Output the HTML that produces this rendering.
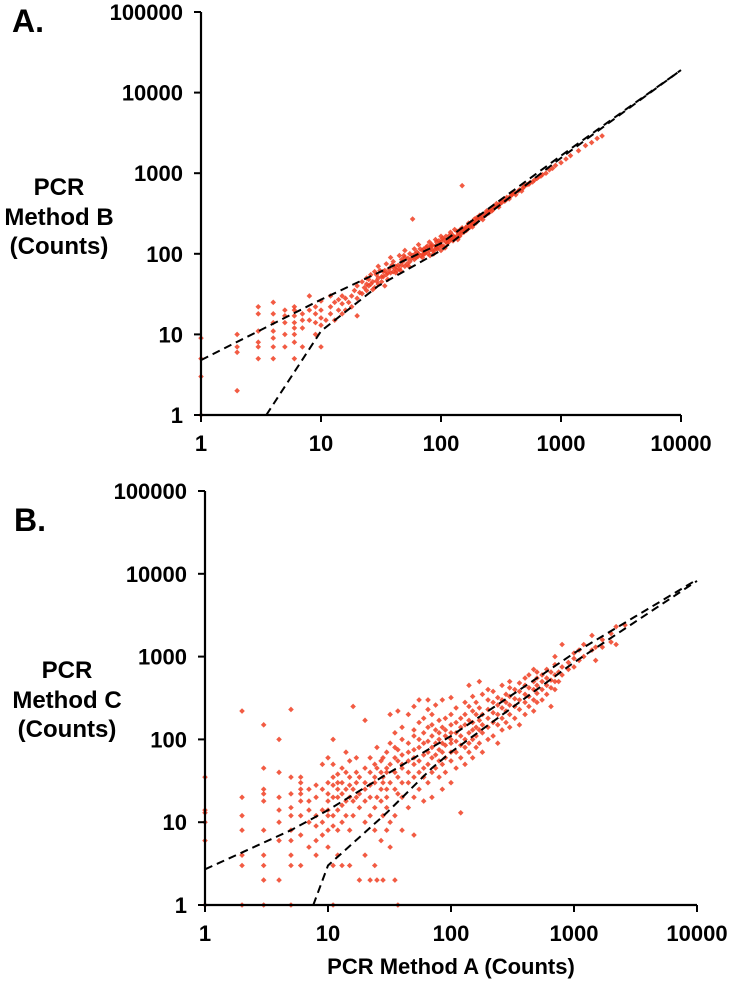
<!DOCTYPE html>
<html><head><meta charset="utf-8">
<style>
html,body{margin:0;padding:0;background:#fff;}
svg{display:block;}
text{font-family:"Liberation Sans",Arial,sans-serif;font-weight:bold;fill:#000;}
</style></head>
<body>
<div style="position:relative;width:733px;height:985px">
<svg id="chart" width="733" height="985" viewBox="0 0 733 985" xmlns="http://www.w3.org/2000/svg" style="position:absolute;left:0;top:0">
  <text x="12" y="32" font-size="32">A.</text>
  <text x="14" y="531" font-size="32">B.</text>
  <g font-size="24" text-anchor="middle">
    <text x="59" y="195">PCR</text>
    <text x="59" y="225">Method B</text>
    <text x="59" y="254">(Counts)</text>
  </g>
  <g font-size="24" text-anchor="middle">
    <text x="67" y="678">PCR</text>
    <text x="67" y="708">Method C</text>
    <text x="67" y="737">(Counts)</text>
  </g>
  <text x="451" y="974" font-size="22" text-anchor="middle">PCR Method A (Counts)</text>
</svg>
</div>
<script>
// ---- data ----
const xTicks = [1, 10, 100, 1000, 10000];
const yTicks = [1, 10, 100, 1000, 10000, 100000];

const pointsA = [[1,1],[1,3],[1,5],[1,9],[2,2],[2,6],[2,7],[2,10],[3,5],[3,7],[3,8],[3,11],[3,18],[3,22],[4,5],[4,7],[4,9],[4,11],[4,14],[4,18],[4,25],[5,7],[5,10],[5,14],[5,17],[5,20],[6,5],[6,8],[6,10],[6,12],[6,14],[6,17],[6,20],[6,22],[7,7],[7,12],[7,15],[7,18],[8,15],[8,20],[8,30],[9,10],[9,14],[9,18],[9,22],[10,7],[10,13],[10,16],[10,20],[10,26],[11,15],[12,18],[12,22],[12,30],[13,15],[13,25],[14,20],[14,27],[15,18],[15,24],[15,30],[16,20],[16,28],[17,25],[18,22],[18,30],[19,35],[20,17],[20,28],[20,40],[22,32],[22,45],[24,35],[24,50],[25,40],[26,55],[27,45],[28,38],[28,60],[30,50],[30,70],[32,45],[33,60],[35,55],[35,75],[37,65],[38,90],[40,60],[40,80],[42,70],[45,95],[45,65],[48,80],[50,90],[50,110],[52,75],[55,100],[58,270],[60,85],[60,115],[65,100],[65,130],[70,110],[70,90],[75,120],[80,110],[80,140],[85,110],[90,125],[90,150],[95,120],[100,110],[100,140],[100,165],[110,140],[110,165],[120,150],[120,185],[130,160],[130,200],[140,180],[150,210],[150,190],[150,700],[160,210],[170,240],[180,230],[190,270],[200,260],[210,300],[220,290],[240,340],[250,320],[260,360],[280,380],[300,400],[320,430],[350,470],[380,520],[400,560],[420,540],[450,620],[480,650],[500,700],[550,760],[600,820],[650,900],[700,960],[750,1000],[800,1100],[850,1150],[900,1250],[1000,1350],[1100,1500],[1200,1650],[1400,1900],[1600,2200],[1800,2400],[2000,2700],[2200,2900],
[25,48],[30,42],[33,52],[36,48],[38,58],[42,58],[44,72],[46,62],[50,70],[55,80],[58,95],[62,90],[68,95],[72,115],[78,100],[82,120],[88,110],[92,140],[98,130],[105,125],[115,150],[125,170],[135,165],[145,200],[155,185],[165,220],[175,215],[185,250],[195,240],[230,310],[270,350],[290,420],[330,460],[370,480],[410,580],[470,600],[520,720],[580,780],[630,860],[680,920],[34,40],[29,55],[21,33],[23,38],[26,42],[31,62],[39,72],[47,85],[53,88],[63,105],[73,100],[83,125],[93,115],[103,155],[113,135],[123,150],[143,165],[163,195],[183,215],[203,275],[223,265],[253,345],[303,380],[353,500],
[24,42],[27,36],[29,46],[32,52],[34,62],[36,58],[41,66],[43,62],[47,72],[49,95],[54,70],[57,88],[61,100],[64,92],[67,115],[71,98],[74,105],[77,125],[81,95],[84,130],[87,100],[91,118],[96,145],[101,125],[106,150],[108,118],[116,140],[118,170],[126,145],[128,160],[136,190],[138,150],[146,175],[158,200],[168,205],[178,245],[188,235],[198,280],[215,275],[235,300],[245,330],[265,340],[275,390],[310,420],[340,450],[390,540],[440,600],[490,680],[540,730]];

const pointsB = [[1,1],[1,6],[1,10],[1,13],[1,14],[1,35],[2,1],[2,3],[2,4],[2,8],[2,12],[2,20],[2,220],[3,1],[3,2],[3,3],[3,4],[3,8],[3,18],[3,22],[3,25],[3,45],[3,150],[4,2],[4,6],[4,10],[4,14],[4,20],[4,40],[4,100],[5,1],[5,3],[5,4],[5,6],[5,8],[5,12],[5,15],[5,22],[5,35],[5,230],[6,3],[6,7],[6,12],[6,18],[6,22],[6,25],[6,30],[6,35],[7,5],[7,10],[7,14],[7,18],[7,25],[8,4],[8,6],[8,9],[8,12],[8,20],[8,28],[9,7],[9,10],[9,14],[9,25],[9,50],[10,5],[10,8],[10,12],[10,14],[10,18],[10,22],[10,30],[10,60],[11,1],[11,3],[11,9],[11,12],[11,20],[11,28],[11,35],[11,50],[11,100],[12,4],[12,8],[12,14],[12,20],[12,25],[12,30],[12,38],[13,3],[13,10],[13,16],[13,22],[13,30],[13,45],[14,12],[14,18],[14,25],[14,40],[14,70],[15,3],[15,8],[15,20],[15,28],[15,35],[15,55],[16,12],[16,18],[16,25],[16,250],[17,20],[17,30],[17,40],[17,60],[18,2],[18,15],[18,22],[18,35],[20,4],[20,10],[20,18],[20,25],[20,30],[20,45],[20,170],[22,2],[22,12],[22,20],[22,28],[22,40],[22,60],[24,3],[24,8],[24,15],[24,30],[24,35],[24,50],[25,2],[25,20],[25,45],[25,80],[27,6],[27,18],[27,25],[27,40],[27,55],[28,2],[28,12],[28,30],[28,35],[28,60],[30,8],[30,15],[30,20],[30,25],[30,40],[30,45],[30,70],[32,5],[32,10],[32,30],[32,50],[32,90],[32,200],[35,2],[35,12],[35,25],[35,40],[35,60],[35,80],[35,120],[37,1],[37,22],[37,35],[37,55],[37,75],[37,220],[40,8],[40,20],[40,30],[40,45],[40,50],[40,65],[40,100],[40,140],[45,15],[45,30],[45,40],[45,55],[45,70],[45,90],[45,200],[50,7],[50,20],[50,35],[50,50],[50,60],[50,75],[50,110],[50,130],[50,250],[55,25],[55,40],[55,55],[55,80],[55,100],[55,160],[55,300],[60,18],[60,35],[60,45],[60,65],[60,90],[60,120],[60,180],[65,30],[65,50],[65,70],[65,95],[65,140],[65,230],[65,300],[70,20],[70,40],[70,60],[70,80],[70,110],[70,150],[70,200],[75,45],[75,65],[75,90],[75,130],[75,260],[80,35],[80,55],[80,75],[80,100],[80,120],[80,170],[85,25],[85,50],[85,70],[85,90],[85,140],[85,300],[90,40],[90,60],[90,85],[90,110],[90,130],[90,180],[100,30],[100,55],[100,70],[100,90],[100,100],[100,120],[100,150],[100,200],[100,320],[110,45],[110,70],[110,95],[110,120],[110,160],[110,240],[120,13],[120,60],[120,85],[120,110],[120,140],[120,180],[130,50],[130,80],[130,100],[130,150],[130,200],[130,280],[140,70],[140,90],[140,120],[140,170],[140,250],[140,450],[150,60],[150,100],[150,130],[150,160],[150,220],[150,330],[160,80],[160,110],[160,140],[160,200],[160,280],[170,90],[170,130],[170,170],[170,240],[170,500],[180,70],[180,120],[180,150],[180,200],[180,350],[200,100],[200,140],[200,180],[200,230],[200,300],[200,400],[220,110],[220,160],[220,210],[220,280],[220,380],[240,90],[240,150],[240,200],[240,260],[240,320],[260,130],[260,180],[260,240],[260,300],[260,450],[280,160],[280,220],[280,280],[280,350],[300,140],[300,200],[300,260],[300,330],[300,420],[300,500],[330,180],[330,250],[330,310],[330,400],[360,150],[360,230],[360,300],[360,380],[360,480],[400,200],[400,280],[400,350],[400,450],[400,550],[430,250],[430,330],[430,420],[430,600],[470,220],[470,300],[470,400],[470,500],[470,700],[500,280],[500,360],[500,450],[500,550],[500,650],[550,300],[550,400],[550,500],[550,600],[600,350],[600,450],[600,550],[600,700],[650,250],[650,420],[650,520],[650,650],[700,400],[700,500],[700,600],[700,800],[700,1000],[750,500],[750,650],[800,600],[800,750],[800,1400],[900,700],[900,850],[1000,750],[1000,950],[1000,1100],[1100,900],[1100,1200],[1200,1000],[1200,1400],[1400,1200],[1400,1800],[1500,900],[1500,1300],[1700,1300],[1700,1600],[2000,1500],[2000,1900],[2200,1400],[2200,2300],[2600,2400]];

const lineA1 = [[1,4.8],[10,27],[100,135],[1000,1650],[10000,19000]];
const lineA2 = [[3.5,1],[10,11],[30,40],[100,110],[1000,1550],[10000,19000]];
const lineB1 = [[1,2.7],[5,8],[10,14],[30,38],[100,110],[1000,1100],[10000,8500]];
const lineB2 = [[7.6,1],[10,3],[30,13],[70,45],[100,70],[1000,850],[10000,8200]];

// ---- drawing ----
const NS = "http://www.w3.org/2000/svg";
const svg = document.getElementById("chart");
function mk(tag, attrs, parent) {
  const e = document.createElementNS(NS, tag);
  for (const k in attrs) e.setAttribute(k, attrs[k]);
  (parent || svg).appendChild(e);
  return e;
}
function makeScales(p) {
  return {
    x: v => p.x0 + Math.log10(v) * p.dx,
    y: v => p.y0 - Math.log10(v) * p.dy
  };
}
function drawPanel(p, pts, l1, l2, idPrefix) {
  const s = makeScales(p);
  const g = mk("g", {});
  
  
  const pg = mk("g", {fill: "#f03e22", "fill-opacity": "0.85"}, g);
  
  
  pts.forEach(d => {
    const cx = s.x(d[0]), cy = s.y(d[1]), r = 2.8;
    const m = mk("path", {d: `M${cx} ${cy - r}L${cx + r} ${cy}L${cx} ${cy + r}L${cx - r} ${cy}Z`}, pg);
    
    
  });
  [l1, l2].forEach((ln, i) => {
    const d = ln.map((q, j) => (j ? "L" : "M") + s.x(q[0]).toFixed(1) + " " + s.y(q[1]).toFixed(1)).join("");
    const path = mk("path", {d: d, fill: "none", stroke: "#000", "stroke-width": "2", "stroke-dasharray": "8 5"}, g);
    
    
  });
  const xmax = s.x(10000), ytop = s.y(100000);
  const ax = mk("path", {d: `M${p.x0} ${ytop}V${p.y0}H${xmax}`, fill: "none", stroke: "#000", "stroke-width": "2.2"}, g);
  
  
  yTicks.forEach(v => {
    const y = s.y(v);
    mk("line", {x1: p.x0 - 7, x2: p.x0, y1: y, y2: y, stroke: "#000", "stroke-width": "2"}, g);
    const t = mk("text", {x: p.x0 - 18, y: y + 8, "font-size": "22", "text-anchor": "end"}, g);
    t.textContent = v;
    
    
  });
  xTicks.forEach(v => {
    const x = s.x(v);
    mk("line", {x1: x, x2: x, y1: p.y0, y2: p.y0 + 7, stroke: "#000", "stroke-width": "2"}, g);
    const t = mk("text", {x: x, y: p.y0 + 36, "font-size": "22", "text-anchor": "middle"}, g);
    t.textContent = v;
    
    
  });
}
drawPanel({x0: 201, dx: 120, y0: 415, dy: 80.6}, pointsA, lineA1, lineA2, 'panel-a');
drawPanel({x0: 205, dx: 123, y0: 905, dy: 82.8}, pointsB, lineB1, lineB2, 'panel-b');
</script>
</body></html>
